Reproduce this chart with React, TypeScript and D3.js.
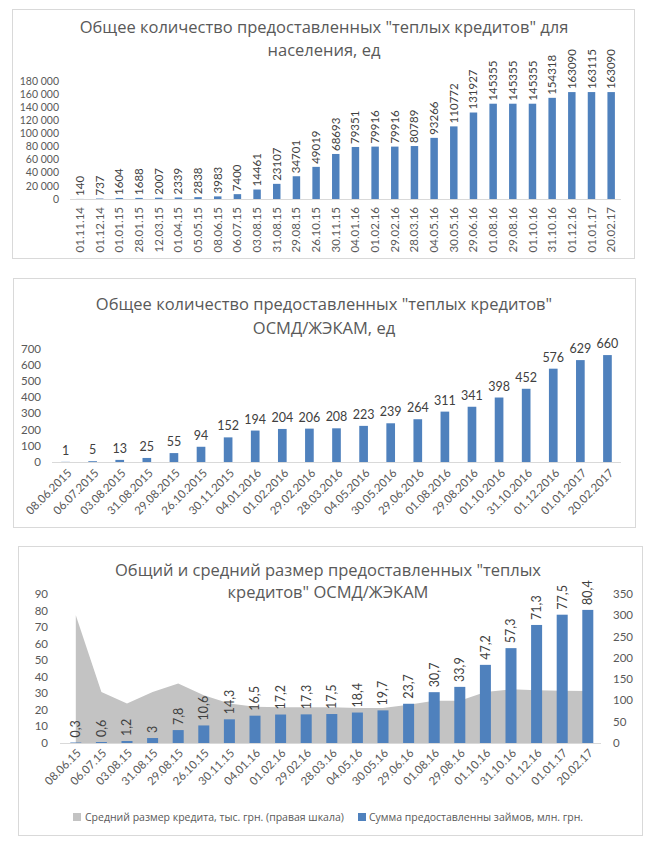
import React from "react";
import * as d3 from "d3";

const dates1 = ["01.11.14","01.12.14","01.01.15","28.01.15","12.03.15","01.04.15","05.05.15","08.06.15","06.07.15","03.08.15","31.08.15","29.08.15","26.10.15","30.11.15","04.01.16","01.02.16","29.02.16","28.03.16","04.05.16","30.05.16","29.06.16","01.08.16","29.08.16","01.10.16","31.10.16","01.12.16","01.01.17","20.02.17"];
const values1 = [140,737,1604,1688,2007,2339,2838,3983,7400,14461,23107,34701,49019,68693,79351,79916,79916,80789,93266,110772,131927,145355,145355,145355,154318,163090,163115,163090];
const ticks1 = [0,20000,40000,60000,80000,100000,120000,140000,160000,180000];

const dates2 = ["08.06.2015","06.07.2015","03.08.2015","31.08.2015","29.08.2015","26.10.2015","30.11.2015","04.01.2016","01.02.2016","29.02.2016","28.03.2016","04.05.2016","30.05.2016","29.06.2016","01.08.2016","29.08.2016","01.10.2016","31.10.2016","01.12.2016","01.01.2017","20.02.2017"];
const values2 = [1,5,13,25,55,94,152,194,204,206,208,223,239,264,311,341,398,452,576,629,660];
const ticks2 = [0,100,200,300,400,500,600,700];

const dates3 = ["08.06.15","06.07.15","03.08.15","31.08.15","29.08.15","26.10.15","30.11.15","04.01.16","01.02.16","29.02.16","28.03.16","04.05.16","30.05.16","29.06.16","01.08.16","29.08.16","01.10.16","31.10.16","01.12.16","01.01.17","20.02.17"];
const sums3 = [0.3,0.6,1.2,3,7.8,10.6,14.3,16.5,17.2,17.3,17.5,18.4,19.7,23.7,30.7,33.9,47.2,57.3,71.3,77.5,80.4];
const avg3 = [300,120,93,120,140,112,93,85,84,84,84,82,82,90,99,99,120,126,124,123,122];
const ticks3L = [0,10,20,30,40,50,60,70,80,90];
const ticks3R = [0,50,100,150,200,250,300,350];

const title1 = ["Общее количество предоставленных \"теплых кредитов\" для", "населения, ед"];
const title2 = ["Общее количество предоставленных \"теплых кредитов\"", "ОСМД/ЖЭКАМ, ед"];
const title3 = ["Общий и средний размер предоставленных \"теплых", "кредитов\" ОСМД/ЖЭКАМ"];
const legend3 = ["Средний размер кредита, тыс. грн. (правая шкала)", "Сумма предоставленны займов, млн. грн."];

const loc = d3.formatLocale({ decimal: ",", thousands: " ", grouping: [3], currency: ["", ""] });
const fmtThousands = loc.format(",");
const fmtDec = (v: number) => String(v).replace(".", ",");

const FONT = "'Open Sans', sans-serif";
const NUM = "Lato, 'Open Sans', sans-serif";
const BLUE = "#4f81bd";
const GRAY = "#c3c3c3";
const TXT = "#595959";
const LBL = "#404040";
const BORDER = "#d9d9d9";

function band(domain: string[], r0: number, r1: number, p: number) {
  return d3.scaleBand().domain(domain).range([r0, r1]).paddingInner(p).paddingOuter(p / 2);
}

function Chart1() {
  const x = band(dates1, 70.2, 621, 0.62);
  const y = d3.scaleLinear().domain([0, 180000]).range([199, 81]);
  return (
    <g>
      <rect x={12.5} y={9.5} width={622} height={249} fill="#fff" stroke={BORDER} />
      {title1.map((t, i) => (
        <text key={i} x={324} y={27 + i * 23} dy="0.35em" textAnchor="middle" fontSize={16.5} fill={TXT}>{t}</text>
      ))}
      {ticks1.map((t) => (
        <text key={t} x={59} y={y(t)} dy="0.35em" textAnchor="end" fontSize={10.5} fontFamily={NUM} fill={TXT}>{fmtThousands(t)}</text>
      ))}
      <line x1={70} x2={621} y1={y(0) + 0.5} y2={y(0) + 0.5} stroke={BORDER} />
      {dates1.map((d, i) => {
        const cx = (x(d) as number) + x.bandwidth() / 2;
        const top = y(values1[i]);
        return (
          <g key={d}>
            <rect x={x(d)} y={top} width={x.bandwidth()} height={y(0) - top} fill={BLUE} />
            <text transform={`translate(${cx},${top - 3}) rotate(-90)`} dy="0.35em" fontSize={11.5} fontFamily={NUM} fill={LBL}>{values1[i]}</text>
            <text transform={`translate(${cx},${207}) rotate(-90)`} dy="0.35em" textAnchor="end" fontSize={11.5} fontFamily={NUM} fill={TXT}>{d}</text>
          </g>
        );
      })}
    </g>
  );
}

function Chart2() {
  const x = band(dates2, 52, 621, 0.68);
  const y = d3.scaleLinear().domain([0, 700]).range([462, 348.6]);
  return (
    <g>
      <rect x={13.5} y={278.5} width={622} height={249} fill="#fff" stroke={BORDER} />
      {title2.map((t, i) => (
        <text key={i} x={324} y={304 + i * 24} dy="0.35em" textAnchor="middle" fontSize={16.5} fill={TXT}>{t}</text>
      ))}
      {ticks2.map((t) => (
        <text key={t} x={41} y={y(t)} dy="0.35em" textAnchor="end" fontSize={11.5} fontFamily={NUM} fill={TXT}>{t}</text>
      ))}
      <line x1={52} x2={621} y1={y(0) + 0.5} y2={y(0) + 0.5} stroke={BORDER} />
      {dates2.map((d, i) => {
        const cx = (x(d) as number) + x.bandwidth() / 2;
        const top = y(values2[i]);
        return (
          <g key={d}>
            <rect x={x(d)} y={top} width={x.bandwidth()} height={y(0) - top} fill={BLUE} />
            <text x={cx} y={top - 7} textAnchor="middle" fontSize={12.5} fontFamily={NUM} fill={LBL}>{values2[i]}</text>
            <text transform={`translate(${cx + 4},${471}) rotate(-45)`} dy="0.35em" textAnchor="end" fontSize={11.5} fontFamily={NUM} fill={TXT}>{d}</text>
          </g>
        );
      })}
    </g>
  );
}

function Chart3() {
  const x = band(dates3, 63, 600.6, 0.57);
  const yL = d3.scaleLinear().domain([0, 90]).range([743, 594]);
  const yR = d3.scaleLinear().domain([0, 350]).range([743, 594]);
  const cxOf = (d: string) => (x(d) as number) + x.bandwidth() / 2;
  const area = d3.area<number>()
    .x((_, i) => cxOf(dates3[i]))
    .y0(yR(0))
    .y1((v) => yR(v));
  return (
    <g>
      <rect x={18.5} y={546.5} width={624} height={289} fill="#fff" stroke={BORDER} />
      {title3.map((t, i) => (
        <text key={i} x={328} y={570 + i * 22} dy="0.35em" textAnchor="middle" fontSize={16.5} fill={TXT}>{t}</text>
      ))}
      {ticks3L.map((t) => (
        <text key={t} x={48} y={yL(t)} dy="0.35em" textAnchor="end" fontSize={11.5} fontFamily={NUM} fill={TXT}>{t}</text>
      ))}
      {ticks3R.map((t) => (
        <text key={t} x={613} y={yR(t)} dy="0.35em" textAnchor="start" fontSize={11.5} fontFamily={NUM} fill={TXT}>{t}</text>
      ))}
      <path d={area(avg3) || ""} fill={GRAY} />
      <line x1={60} x2={601} y1={yL(0) + 0.5} y2={yL(0) + 0.5} stroke={BORDER} />
      {dates3.map((d, i) => {
        const cx = cxOf(d);
        const top = yL(sums3[i]);
        return (
          <g key={d}>
            <rect x={x(d)} y={top} width={x.bandwidth()} height={yL(0) - top} fill={BLUE} />
            <text transform={`translate(${cx},${top - 5}) rotate(-90)`} dy="0.35em" fontSize={12.5} fontFamily={NUM} fill={LBL}>{fmtDec(sums3[i])}</text>
            <text transform={`translate(${cx + 3},${751}) rotate(-45)`} dy="0.35em" textAnchor="end" fontSize={11.5} fontFamily={NUM} fill={TXT}>{d}</text>
          </g>
        );
      })}
      <rect x={73} y={813} width={8} height={8} fill={GRAY} />
      <text x={85} y={817} dy="0.35em" fontSize={10.5} fill={TXT}>{legend3[0]}</text>
      <rect x={358} y={813} width={8} height={8} fill={BLUE} />
      <text x={369} y={817} dy="0.35em" fontSize={10.5} fill={TXT}>{legend3[1]}</text>
    </g>
  );
}

export default function App() {
  return (
    <div style={{ position: "absolute", left: 0, top: 0 }}>
      <svg width={660} height={847} style={{ display: "block", fontFamily: FONT }}>
        <rect width={660} height={847} fill="#fff" />
        <Chart1 />
        <Chart2 />
        <Chart3 />
      </svg>
    </div>
  );
}
